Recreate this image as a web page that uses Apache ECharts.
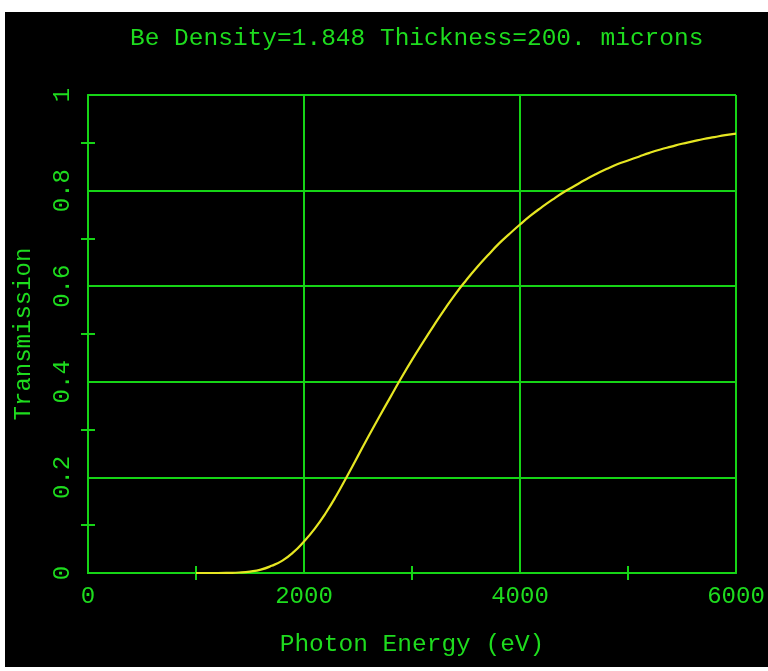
<!DOCTYPE html>
<html><head><meta charset="utf-8">
<script src="https://cdn.jsdelivr.net/npm/echarts@6/dist/echarts.min.js"></script>
<style>
html,body{margin:0;padding:0;background:#fff;width:768px;height:671px;overflow:hidden;}
#c{position:absolute;left:5px;top:12px;width:763px;height:655px;background:#000;}
</style></head><body><div id="c"></div>
<script>
const titleText = 'Be Density=1.848 Thickness=200. microns';
const xName = 'Photon Energy (eV)';
const yName = 'Transmission';
const energy = [1000,1100,1200,1300,1400,1500,1600,1700,1800,1900,2000,2100,2200,2300,2400,2500,2600,2700,2800,2900,3000,3100,3200,3300,3400,3500,3600,3700,3800,3900,4000,4100,4200,4300,4400,4500,4600,4700,4800,4900,5000,5100,5200,5300,5400,5500,5600,5700,5800,5900,6000];
const transmission = [0,0,0,0.0003,0.001,0.003,0.007,0.015,0.026,0.043,0.066,0.093,0.125,0.162,0.203,0.245,0.287,0.328,0.368,0.408,0.446,0.482,0.517,0.551,0.583,0.612,0.639,0.664,0.688,0.709,0.729,0.748,0.765,0.781,0.796,0.809,0.822,0.834,0.845,0.855,0.863,0.871,0.879,0.886,0.892,0.898,0.903,0.908,0.912,0.916,0.919];

const G = '#16d416';
const T = '#1edc1e';
const FONT = 'Liberation Mono';
const chart = echarts.init(document.getElementById('c'), null, {width:763, height:655});
const baseAxis = {
  axisLine:{show:true,lineStyle:{color:G,width:2}},
  axisTick:{show:false,inside:true},
  minorTick:{show:true,splitNumber:2,length:7,lineStyle:{color:G,width:2}},
  minorSplitLine:{show:false}
};
chart.setOption({
  backgroundColor:'#000',
  animation:false,
  title:{text:titleText,left:120,top:9,textStyle:{color:T,fontFamily:FONT,fontSize:24.5,fontWeight:'normal'}},
  grid:{left:83,right:32,top:83,bottom:94,outerBoundsMode:'none',containLabel:false},
  xAxis:[
    Object.assign({},baseAxis,{type:'value',position:'bottom',min:0,max:6000,interval:2000,
      name:xName,nameLocation:'middle',nameGap:59,
      nameTextStyle:{color:T,fontFamily:FONT,fontSize:24.5},
      axisLabel:{color:T,fontFamily:FONT,fontSize:24,margin:12,formatter:v=>String(v)},
      splitLine:{show:true,lineStyle:{color:G,width:2}}}),
    Object.assign({},baseAxis,{type:'value',position:'top',min:0,max:6000,interval:2000,
      axisLabel:{show:false},splitLine:{show:false}})
  ],
  yAxis:[
    Object.assign({},baseAxis,{type:'value',position:'left',min:0,max:1,interval:0.2,
      name:yName,nameLocation:'middle',nameGap:52,nameRotate:90,
      nameTextStyle:{color:T,fontFamily:FONT,fontSize:24},
      axisLabel:{color:T,fontFamily:FONT,fontSize:24,rotate:90,margin:13},
      splitLine:{show:true,lineStyle:{color:G,width:2}}}),
    Object.assign({},baseAxis,{type:'value',position:'right',min:0,max:1,interval:0.2,
      axisLabel:{show:false},splitLine:{show:false}})
  ],
  series:[{
    type:'line',
    data:energy.map((e,i)=>[e,transmission[i]]),
    showSymbol:false,
    smooth:true,
    lineStyle:{color:'#e6e622',width:2.2},
    z:5
  }]
});
</script></body></html>
